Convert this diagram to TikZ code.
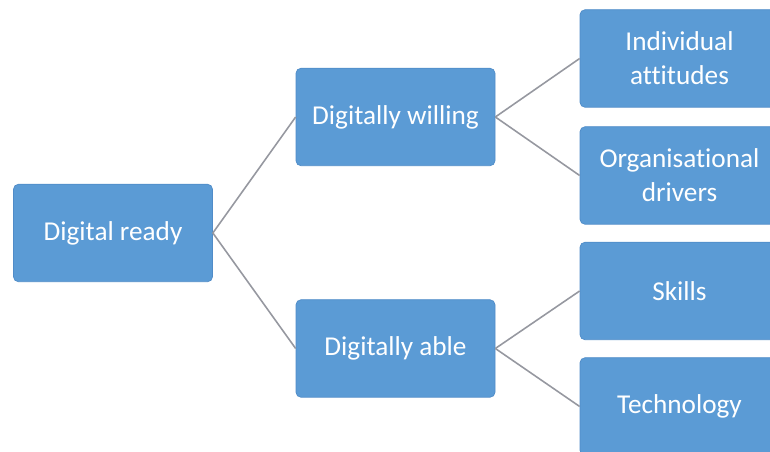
\documentclass[tikz,border=0pt]{standalone}
\usepackage{fontspec}
\setmainfont[Ligatures=NoCommon]{Carlito}
\usetikzlibrary{positioning}
\definecolor{boxblue}{RGB}{91,155,213}
\definecolor{boxedge}{RGB}{80,140,200}
\definecolor{linkgray}{RGB}{150,152,160}

\begin{document}
\begin{tikzpicture}[
  box/.style={
    draw=boxedge, line width=0.4pt, rectangle, rounded corners=0.1cm,
    fill=boxblue, text=white,
    minimum width=3.98cm, minimum height=1.95cm,
    align=center, font=\fontsize{15.5}{19.5}\selectfont
  },
  link/.style={draw=linkgray, line width=0.9pt}
]

% ----------------------
% Frame
% ----------------------
\useasboundingbox (0,0) rectangle (15.4,-9.04);

% ----------------------
% Root and middle level
% ----------------------
\node[box] (ready) at (2.26,-4.66) {Digital ready};

\node[box] (willing) at (7.91,-2.34) {Digitally willing};

\node[box] (able) at (7.91,-6.97) {Digitally able};

% ----------------------
% Leaves (cut by the right edge)
% ----------------------
\node[box] (attitudes) at (13.59,-1.17) {Individual\\attitudes};

\node[box] (drivers) at (13.59,-3.51) {Organisational\\drivers};

\node[box] (skills) at (13.59,-5.82) {Skills};

\node[box] (tech) at (13.59,-8.13) {Technology};

% ----------------------
% Connectors
% ----------------------
\draw[link] (ready.east) -- (willing.west);
\draw[link] (ready.east) -- (able.west);

\draw[link] (willing.east) -- (attitudes.west);
\draw[link] (willing.east) -- (drivers.west);

\draw[link] (able.east) -- (skills.west);
\draw[link] (able.east) -- (tech.west);

\end{tikzpicture}
\end{document}
